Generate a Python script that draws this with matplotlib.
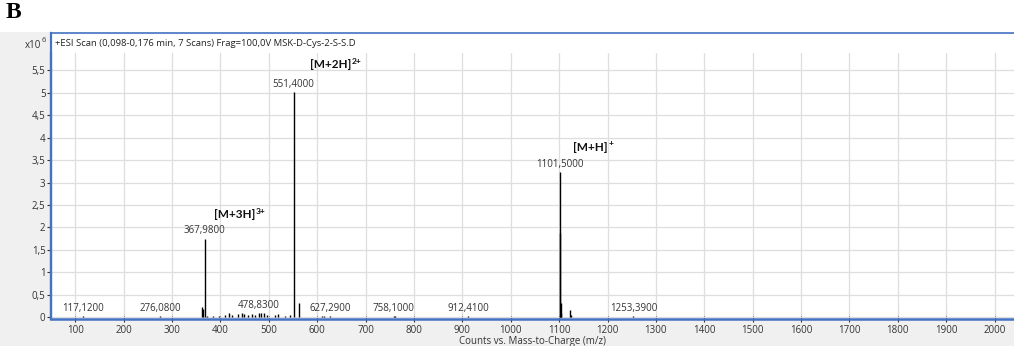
import matplotlib.pyplot as plt
from matplotlib.patches import Rectangle
from matplotlib.lines import Line2D

plt.rcParams['font.family'] = ['Open Sans', 'DejaVu Sans']

# labelled peaks (m/z, counts x10^6)
label_mz = [117.12, 276.08, 367.98, 478.83, 551.40, 627.29, 758.10, 912.41, 1101.50, 1253.39]
label_counts = [0.02, 0.025, 1.75, 0.09, 5.01, 0.02, 0.03, 0.02, 3.24, 0.02]

# unlabelled minor peaks
minor_mz = [361.3, 363.5, 372, 385, 398, 410, 417, 423, 436, 444, 449, 458, 466, 472,
            484, 490, 497, 512, 520, 534, 543, 562.4, 609, 615, 760,
            1102.5, 1103.5, 1104.5, 1123.5, 1125.0]
minor_counts = [0.22, 0.18, 0.03, 0.02, 0.03, 0.05, 0.08, 0.04, 0.06, 0.10, 0.07, 0.05, 0.06, 0.04,
                0.08, 0.10, 0.05, 0.04, 0.06, 0.03, 0.04, 0.31, 0.02, 0.03, 0.02,
                1.87, 0.31, 0.09, 0.15, 0.04]

# ion assignments: text, charge, anchor m/z, anchor counts
ion_names = ['[M+3H]', '[M+2H]', '[M+H]']
ion_charges = ['3+', '2+', '+']
ion_mz = [387, 585, 1129]
ion_counts = [2.28, 5.63, 3.79]

x_ticks = list(range(100, 2001, 100))
y_ticks = [i * 0.5 for i in range(12)]

W, H = 1014, 346
fig = plt.figure(figsize=(W / 100, H / 100), dpi=100)
fig.patch.set_facecolor('white')

blue = '#4472c4'
# grey window background and white chart panel
fig.patches.append(Rectangle((0, 0), 1, (H - 32) / H, transform=fig.transFigure,
                             facecolor='#f0f0f0', edgecolor='none', zorder=-10))
fig.patches.append(Rectangle((51 / W, 27 / H), 1, (H - 32 - 27) / H, transform=fig.transFigure,
                             facecolor='white', edgecolor='none', zorder=-9))
fig.lines.append(Line2D([51 / W, 1], [(H - 32.5) / H] * 2, transform=fig.transFigure,
                        color=blue, lw=1.2))
fig.lines.append(Line2D([51 / W] * 2, [27 / H, (H - 32.5) / H], transform=fig.transFigure,
                        color=blue, lw=1.6))

ax = fig.add_axes([51 / W, 27 / H, (W - 51) / W, (319 - 53) / H])
ax.set_zorder(1)
ax.set_facecolor('white')
ax.set_xlim(50, 2040)
ax.set_ylim(-0.045, 5.89)

for s in ['top', 'right']:
    ax.spines[s].set_visible(False)
ax.spines['left'].set_color(blue)
ax.spines['left'].set_linewidth(1.6)
ax.spines['bottom'].set_color(blue)
ax.spines['bottom'].set_linewidth(1.8)

ax.set_xticks(x_ticks)
ax.set_yticks(y_ticks)
ax.set_yticklabels([('%g' % v).replace('.', ',') for v in y_ticks])
ax.tick_params(axis='both', labelsize=7, colors='#333333', length=3, width=0.8, pad=1)
ax.tick_params(axis='x', direction='inout', length=5, pad=2)
ax.grid(True, color='#dedede', lw=0.9)
ax.set_axisbelow(True)

ax.vlines(minor_mz, 0, minor_counts, color='black', lw=1.0)
ax.vlines(label_mz, 0, label_counts, color='black', lw=1.0)

for m, c in zip(label_mz, label_counts):
    ax.annotate(('%.4f' % m).replace('.', ','), xy=(m, c), xytext=(0, 1.5),
                textcoords='offset points', ha='center', va='bottom',
                fontsize=7, color='#333333')

for name, z, m, c in zip(ion_names, ion_charges, ion_mz, ion_counts):
    t = ax.text(m, c, name, ha='left', va='center', fontsize=8.5,
                fontweight='bold', family='Lato', color='#111111')
    ax.annotate(z, xy=(1, 1), xycoords=t, xytext=(0.5, 1), textcoords='offset points',
                ha='left', va='top', fontsize=6, fontweight='bold', family='Lato', color='#111111')

ax.set_xlabel('Counts vs. Mass-to-Charge (m/z)', fontsize=7, color='#333333', labelpad=0)

# panel title and scale factor
fig.text(55 / W, 1 - 43 / H, '+ESI Scan (0,098-0,176 min, 7 Scans) Frag=100,0V MSK-D-Cys-2-S-S.D',
         ha='left', va='center', fontsize=6.8, color='#222222')
fig.text(41 / W, 1 - 45 / H, 'x10', ha='right', va='center', fontsize=7, color='#333333')
fig.text(42 / W, 1 - 41 / H, '6', ha='left', va='center', fontsize=5.5, color='#333333')

fig.text(6 / W, 1 - 12 / H, 'B', ha='left', va='center', fontsize=17, fontweight='bold',
         family='Liberation Serif')

fig.savefig('out.png', dpi=100)
